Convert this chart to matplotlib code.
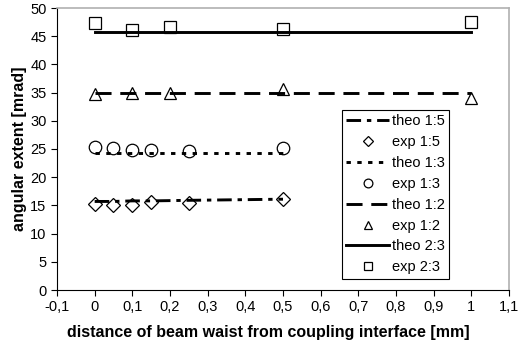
import matplotlib
matplotlib.use("Agg")
import matplotlib.pyplot as plt
from matplotlib.ticker import FuncFormatter

plt.rcParams['font.family'] = ['Liberation Sans', 'DejaVu Sans']

# theoretical lines
theo15_x = [0, 0.05, 0.1, 0.15, 0.25, 0.5]
theo15_y = [15.7, 15.7, 15.8, 15.8, 15.9, 16.1]
theo13_x = [0, 0.05, 0.1, 0.15, 0.25, 0.5]
theo13_y = [24.3, 24.3, 24.3, 24.3, 24.3, 24.3]
theo12_x = [0, 0.1, 0.2, 0.5, 1.0]
theo12_y = [35.0, 35.0, 35.0, 35.0, 35.0]
theo23_x = [0, 0.1, 0.2, 0.5, 1.0]
theo23_y = [45.8, 45.8, 45.8, 45.8, 45.8]

# experimental points
exp15_x = [0, 0.05, 0.1, 0.15, 0.25, 0.5]
exp15_y = [15.2, 15.1, 15.1, 15.6, 15.5, 16.2]
exp13_x = [0, 0.05, 0.1, 0.15, 0.25, 0.5]
exp13_y = [25.3, 25.2, 24.9, 24.8, 24.7, 25.1]
exp12_x = [0, 0.1, 0.2, 0.5, 1.0]
exp12_y = [34.7, 34.9, 35.0, 35.6, 34.1]
exp23_x = [0, 0.1, 0.2, 0.5, 1.0]
exp23_y = [47.4, 46.1, 46.6, 46.2, 47.5]

xticks = [-0.1, 0, 0.1, 0.2, 0.3, 0.4, 0.5, 0.6, 0.7, 0.8, 0.9, 1.0, 1.1]
yticks = [0, 5, 10, 15, 20, 25, 30, 35, 40, 45, 50]

fig = plt.figure(figsize=(5.23, 3.47), dpi=100)
ax = fig.add_axes([57/523, 1-290/347, (509-57)/523, (290-8)/347])

lw = 2.1
mk = dict(linestyle='none', markerfacecolor='none', markeredgecolor='black',
          markeredgewidth=0.9, markersize=9)

ax.plot(exp15_x, exp15_y, marker='D', label='exp 1:5', **{**mk, 'markersize': 7.5})
ax.plot(exp13_x, exp13_y, marker='o', label='exp 1:3', **mk)
ax.plot(exp12_x, exp12_y, marker='^', label='exp 1:2', **mk)
ax.plot(exp23_x, exp23_y, marker='s', label='exp 2:3', **mk)

ax.plot(theo15_x, theo15_y, color='black', lw=lw, dashes=(5, 2, 1.5, 2), label='theo 1:5')
ax.plot(theo13_x, theo13_y, color='black', lw=lw, dashes=(1.5, 2.2), label='theo 1:3')
ax.plot(theo12_x, theo12_y, color='black', lw=lw, dashes=(5.5, 3), label='theo 1:2')
ax.plot(theo23_x, theo23_y, color='black', lw=lw, label='theo 2:3')

handles, labels = ax.get_legend_handles_labels()
order = ['theo 1:5', 'exp 1:5', 'theo 1:3', 'exp 1:3', 'theo 1:2', 'exp 1:2', 'theo 2:3', 'exp 2:3']
hmap = dict(zip(labels, handles))
leg = ax.legend([hmap[o] for o in order], order, loc='upper left',
                bbox_to_anchor=((342-57)/(509-57), 1-(110-8)/(290-8)),
                frameon=True, fancybox=False, edgecolor='black', framealpha=1,
                fontsize=10.5, handlelength=2.9, handletextpad=0.2, labelspacing=0.47,
                borderpad=0.3, borderaxespad=0, markerscale=0.7)
leg.get_frame().set_linewidth(0.8)

ax.set_xlim(-0.1, 1.1)
ax.set_ylim(0, 50)
ax.set_xticks(xticks)
ax.set_yticks(yticks)
fmt = FuncFormatter(lambda v, p: ('%g' % round(v, 2)).replace('.', ','))
ax.xaxis.set_major_formatter(fmt)
ax.yaxis.set_major_formatter(fmt)
ax.tick_params(direction='out', length=4, width=0.8, labelsize=10.5, colors='black')

for s in ['top', 'right']:
    ax.spines[s].set_color('#b0b0b0')
    ax.spines[s].set_linewidth(1.2)
for s in ['left', 'bottom']:
    ax.spines[s].set_color('black')
    ax.spines[s].set_linewidth(0.8)

ax.set_xlabel('distance of beam waist from coupling interface [mm]', fontweight='bold', fontsize=11.5)
ax.xaxis.set_label_coords((268-57)/(509-57), -(333-290)/(290-8), transform=ax.transAxes)
ax.xaxis.label.set_va('center')
ax.set_ylabel('angular extent [mrad]', fontweight='bold', fontsize=11.5, labelpad=2)

fig.savefig('out.png', dpi=100)
